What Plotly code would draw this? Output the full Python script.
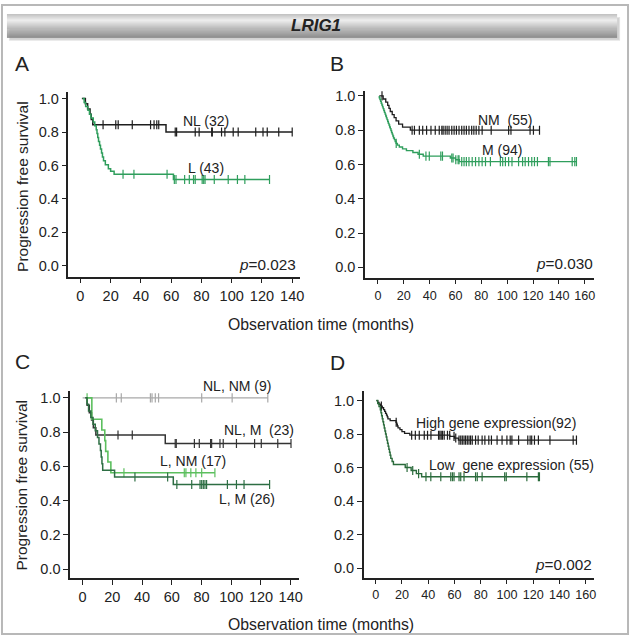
import plotly.graph_objects as go

W, H = 636, 639
FONT = "Liberation Sans, Arial, sans-serif"

# ---------------- data ----------------
x_ticks_ac = [0, 20, 40, 60, 80, 100, 120, 140]
x_ticks_bd = [0, 20, 40, 60, 80, 100, 120, 140, 160]
y_ticks = [0.0, 0.2, 0.4, 0.6, 0.8, 1.0]

# Panel A
A_NL_start, A_NL_end = 1, 140
A_NL_t = [3.3, 4.8, 6.4, 7.2, 8.2, 56.6]
A_NL_s = [0.969, 0.938, 0.906, 0.875, 0.844, 0.80]
A_NL_cens = [15, 23.4, 25, 34.3, 46.4, 48.7, 50.5, 51.8, 62.7, 63.6, 75.9, 78.5, 86.8, 87.2,
             93.3, 95.5, 101, 104.3, 115.9, 120.7, 123.5, 131.1, 140]
A_L_start, A_L_end = 1.5, 125
A_L_t = [2.5, 3.5, 5, 6, 7, 8.5, 9.5, 10.5, 11, 11.5, 12, 12.7, 13.3, 14, 14.6, 15.3, 16.5, 18.5, 20, 22.3, 61.5]
A_L_s = [0.977, 0.953, 0.93, 0.907, 0.884, 0.86, 0.837, 0.814, 0.791, 0.767, 0.744, 0.721, 0.698, 0.674,
         0.651, 0.628, 0.605, 0.581, 0.565, 0.547, 0.516]
A_L_cens = [28.2, 35.4, 57.3, 62.1, 63.2, 68.9, 72, 74.8, 75.9, 80.5, 81.5, 82.4, 88.5, 97.7, 103.8, 108.7, 125]

# Panel B
B_NM_start, B_NM_end = 1, 125
B_NM_t = [4, 6, 7.5, 8.5, 9.5, 11, 12.5, 14, 16, 19, 25]
B_NM_s = [0.982, 0.964, 0.945, 0.927, 0.909, 0.891, 0.873, 0.855, 0.836, 0.818, 0.80]
B_NM_cens = [3.1, 26.4, 28.2, 32, 34.6, 37.6, 41, 44.3, 47.4, 49.4, 50.4, 52, 53.5, 55, 57.1, 58.9, 60.7,
             62.7, 64.8, 66.6, 68.4, 70.4, 72.5, 74.2, 76, 78.1, 80.6, 87.6, 101.1, 102.9, 117.7, 120.3, 125]
B_M_start, B_M_end = 1, 153.6
B_M_t = [1, 1.5, 2, 2.5, 3, 3.5, 4, 4.5, 5, 5.5, 6, 6.5, 7, 7.5, 8, 8.5, 9, 9.5, 10, 10.5,
         11, 11.5, 12, 12.7, 13.3, 14, 15, 16.5, 19, 22, 27, 31, 35, 56, 60, 63]
B_M_s = [0.989, 0.979, 0.968, 0.957, 0.947, 0.936, 0.926, 0.915, 0.904, 0.894, 0.883, 0.872, 0.862,
         0.851, 0.840, 0.830, 0.819, 0.809, 0.798, 0.787, 0.777, 0.766, 0.755, 0.745, 0.734, 0.723,
         0.713, 0.702, 0.691, 0.681, 0.670, 0.660, 0.649, 0.638, 0.628, 0.617]
B_M_cens = [14.1, 32, 37.1, 39.7, 48.6, 49.9, 57.1, 58.1, 60.2, 62, 62.7, 64.8, 66.6, 68.4, 70.4, 72.9,
            75.5, 78.1, 80.6, 83.2, 87, 94.7, 96.5, 98.6, 101.1, 103.7, 108.8, 111.9, 113.9, 116.5,
            119, 121.1, 123.4, 131.9, 133.1, 150.3, 152.3, 153.6]

# Panel C
C_NLNM_start, C_NLNM_end = 0, 124.6
C_NLNM_t, C_NLNM_s = [], []
C_NLNM_cens = [22.7, 26, 45.6, 46.7, 48.9, 51.1, 80.1, 100.6, 124.6]
C_NLM_start, C_NLM_end = 2, 140.2
C_NLM_t = [3, 4.5, 6, 7.2, 8.9, 55.6]
C_NLM_s = [0.957, 0.913, 0.870, 0.826, 0.783, 0.733]
C_NLM_cens = [23.8, 33.4, 62.3, 63, 75.2, 78.5, 86.1, 86.8, 92.4, 94.6, 103.5, 115.7, 120.2, 131.3, 140.2]
C_LNM_start, C_LNM_end = 3, 89
C_LNM_t = [6.2, 12.9, 14.9, 15.5, 17, 19]
C_LNM_s = [0.875, 0.8125, 0.75, 0.6875, 0.625, 0.5625]
C_LNM_cens = [3, 27.8, 68.4, 69.5, 72.8, 76.2, 80.1, 89]
C_LM_start, C_LM_end = 1.8, 125.8
C_LM_t = [3, 4, 5.5, 7, 8.5, 10, 11, 12, 12.5, 13, 13.5, 21.5, 61]
C_LM_s = [0.962, 0.923, 0.885, 0.846, 0.808, 0.769, 0.731, 0.692, 0.654, 0.615, 0.577, 0.538, 0.494]
C_LM_cens = [35.2, 57.2, 63.4, 73.4, 79, 80.1, 81.2, 82.3, 83.4, 97.4, 103.5, 108.6, 125.8]

# Panel D
D_HI_start, D_HI_end = 0.5, 153
D_HI_t = [1.5, 2.5, 3.5, 5, 6, 6.8, 7.5, 8.2, 8.8, 9.3, 11, 15.5, 16, 16.5, 17, 18.5, 20, 22, 26, 56.5, 60, 63]
D_HI_s = [0.989, 0.978, 0.967, 0.957, 0.946, 0.935, 0.924, 0.913, 0.902, 0.891, 0.880, 0.870, 0.859,
          0.848, 0.837, 0.826, 0.815, 0.804, 0.793, 0.786, 0.776, 0.764]
D_HI_cens = [4.3, 15.6, 27.4, 30.2, 33.2, 37, 39.5, 42.1, 47.9, 48.9, 49.9, 50.9, 52.2, 54.7, 56.4, 59.7,
             61, 63.5, 64.8, 66, 67.3, 68.5, 69.8, 71.1, 72.3, 73.6, 76.1, 78.1, 81.1, 83.2, 86.2, 88.2,
             92.5, 96.3, 100, 102.5, 103.8, 108.9, 115.9, 117.7, 118.9, 121, 124, 132.8, 150.5, 153]
D_LO_start, D_LO_end = 0.5, 124.8
D_LO_t = [1.5, 2.5, 3.5, 4, 4.5, 5, 5.5, 6, 6.5, 7, 7.5, 8, 8.5, 9, 9.5, 10, 10.5, 11, 11.5, 12.5, 13.5,
          22.5, 27, 31, 35]
D_LO_s = [0.982, 0.964, 0.945, 0.927, 0.909, 0.891, 0.873, 0.855, 0.836, 0.818, 0.800, 0.782, 0.764,
          0.745, 0.727, 0.709, 0.691, 0.673, 0.655, 0.636, 0.618, 0.600, 0.582, 0.564, 0.545]
D_LO_cens = [23.9, 28.2, 32.7, 38.3, 42, 49.6, 57.2, 58.5, 59.7, 63.5, 64.8, 67.3, 76.1, 77.4, 81.1,
             98.3, 99.5, 115.2, 124, 124.8]

# ---------------- helpers ----------------
def PX(x):
    return x / W

def PY(y):
    return 1 - y / H

def surv_at(t, ev_t, ev_s):
    s = 1.0
    for et, es in zip(ev_t, ev_s):
        if et <= t:
            s = es
    return s

fig = go.Figure()

def add_curve(ax, start, end, ev_t, ev_s, cens, color, width=1.5):
    xs = [start] + list(ev_t) + [end]
    ys = [1.0] + list(ev_s) + [ev_s[-1] if ev_s else 1.0]
    xa = "x" if ax == 1 else f"x{ax}"
    ya = "y" if ax == 1 else f"y{ax}"
    fig.add_trace(go.Scatter(x=xs, y=ys, mode="lines", line=dict(color=color, width=width, shape="hv"),
                             xaxis=xa, yaxis=ya, showlegend=False, hoverinfo="skip"))
    fig.add_trace(go.Scatter(x=cens, y=[surv_at(c, ev_t, ev_s) for c in cens], mode="markers",
                             marker=dict(symbol="line-ns", size=6.5, line=dict(color=color, width=1.2)),
                             xaxis=xa, yaxis=ya, showlegend=False, hoverinfo="skip"))

BLACK = "#1e1e1e"
GREEN = "#2f9e5c"
add_curve(1, A_NL_start, A_NL_end, A_NL_t, A_NL_s, A_NL_cens, BLACK)
add_curve(1, A_L_start, A_L_end, A_L_t, A_L_s, A_L_cens, GREEN)
add_curve(2, B_NM_start, B_NM_end, B_NM_t, B_NM_s, B_NM_cens, BLACK, 1.3)
add_curve(2, B_M_start, B_M_end, B_M_t, B_M_s, B_M_cens, GREEN, 1.4)
add_curve(3, C_NLNM_start, C_NLNM_end, C_NLNM_t, C_NLNM_s, C_NLNM_cens, "#a8a8a8", 1.3)
add_curve(3, C_NLM_start, C_NLM_end, C_NLM_t, C_NLM_s, C_NLM_cens, "#333333", 1.5)
add_curve(3, C_LNM_start, C_LNM_end, C_LNM_t, C_LNM_s, C_LNM_cens, "#5cbf5e", 1.6)
add_curve(3, C_LM_start, C_LM_end, C_LM_t, C_LM_s, C_LM_cens, "#2d6e43", 1.5)
add_curve(4, D_HI_start, D_HI_end, D_HI_t, D_HI_s, D_HI_cens, BLACK, 1.3)
add_curve(4, D_LO_start, D_LO_end, D_LO_t, D_LO_s, D_LO_cens, "#2b6b3c", 1.4)

# axes geometry: (x_left_px, x_right_px, y_top_px, y_bottom_px, xrange, yrange, xticks, xtick font)
panels = {
    1: (69, 302, 89, 275, [-7.87, 144.9], [-0.0655, 1.042], x_ticks_ac, 14.5),
    2: (368, 599, 88, 276, [-9.98, 167.4], [-0.06, 1.031], x_ticks_bd, 12.6),
    3: (70.7, 301.7, 390, 578, [-8.4, 145.8], [-0.054, 1.039], x_ticks_ac, 14.5),
    4: (366.7, 599, 390, 577.3, [-9.07, 166.6], [-0.057, 1.056], x_ticks_bd, 12.6),
}
axcommon = dict(showline=True, linecolor="#222", linewidth=1.5, ticks="outside", ticklen=5,
                tickcolor="#222", tickwidth=1.4, showgrid=False, zeroline=False)
layout = {}
for k, (xl, xr, yt, yb, xr_, yr_, xt, xfs) in panels.items():
    xn = "xaxis" if k == 1 else f"xaxis{k}"
    yn = "yaxis" if k == 1 else f"yaxis{k}"
    ya = "y" if k == 1 else f"y{k}"
    xa = "x" if k == 1 else f"x{k}"
    layout[xn] = dict(domain=[PX(xl), PX(xr)], range=xr_, tickvals=xt, anchor=ya,
                      tickfont=dict(size=xfs, color="#222", family=FONT), **axcommon)
    layout[yn] = dict(domain=[PY(yb), PY(yt)], range=yr_, tickvals=y_ticks, tickformat=".1f",
                      anchor=xa, tickfont=dict(size=14.5, color="#222", family=FONT), **axcommon)

shapes = []
# outer frame
shapes.append(dict(type="rect", xref="paper", yref="paper", x0=PX(2), x1=PX(633), y0=PY(634), y1=PY(2),
                   line=dict(color="#b8b8b8", width=2), layer="below"))
# banner shadow
for i, c in enumerate(["#e4e4e4", "#d2d2d2"]):
    shapes.append(dict(type="rect", xref="paper", yref="paper", x0=PX(9 + i), x1=PX(625 - i),
                       y0=PY(38 - i), y1=PY(14 + i), line=dict(width=0), fillcolor=c, layer="below"))
# banner gradient
top, bot = 11, 35
n = bot - top
def mix(a, b, f):
    return int(round(a + (b - a) * f))
for i in range(n):
    f = i / (n - 1)
    if f < 0.25:
        v = mix(0xc4, 0xee, f / 0.25)
    else:
        v = mix(0xee, 0x80, (f - 0.25) / 0.75)
    col = f"rgb({v},{v},{v})"
    shapes.append(dict(type="rect", xref="paper", yref="paper", x0=PX(7), x1=PX(622),
                       y0=PY(top + i + 1), y1=PY(top + i), line=dict(width=0), fillcolor=col, layer="below"))

ann = []
def text(x, y, s, size=14, xanchor="center", **kw):
    ann.append(dict(x=PX(x), y=PY(y), xref="paper", yref="paper", text=s, showarrow=False,
                    xanchor=xanchor, yanchor="middle", font=dict(size=size, color="#222", family=FONT), **kw))

text(318, 23, "<b><i>LRIG1</i></b>", size=17)
text(22, 61, "A", size=21)
text(340, 61, "B", size=21)
text(23, 360, "C", size=21)
text(340, 361, "D", size=21)
text(22, 184, "Progression free survival", size=15.5, textangle=-90)
text(22, 484, "Progression free survival", size=15.5, textangle=-90)
text(324, 323, "Observation time (months)", size=15.8)
text(324, 624, "Observation time (months)", size=15.8)

text(182, 119, "NL (32)", xanchor="left")
text(187, 165.5, "L (43)", xanchor="left")
text(300, 262.5, "<i>p</i>=0.023", size=15.3, xanchor="right")
text(480, 117.5, "NM  (55)", xanchor="left")
text(483.5, 148, "M (94)", xanchor="left")
text(600, 261.5, "<i>p</i>=0.030", size=15.3, xanchor="right")
text(202.5, 385, "NL, NM (9)", xanchor="left")
text(224, 429, "NL, M  (23)", xanchor="left")
text(159.5, 460.5, "L, NM (17)", xanchor="left")
text(219, 498.5, "L, M (26)", xanchor="left")
text(417.5, 421.5, "High gene expression(92)", xanchor="left")
text(430, 464, "Low  gene expression (55)", xanchor="left")
text(599, 564, "<i>p</i>=0.002", size=15.3, xanchor="right")

fig.update_layout(width=W, height=H, margin=dict(l=0, r=0, t=0, b=0), paper_bgcolor="white",
                  plot_bgcolor="rgba(0,0,0,0)", shapes=shapes, annotations=ann, showlegend=False,
                  font=dict(family=FONT), **layout)
fig.write_html("out.html", config={"displayModeBar": False},
               post_script="document.body.style.margin='0px';document.body.style.overflow='hidden';")
